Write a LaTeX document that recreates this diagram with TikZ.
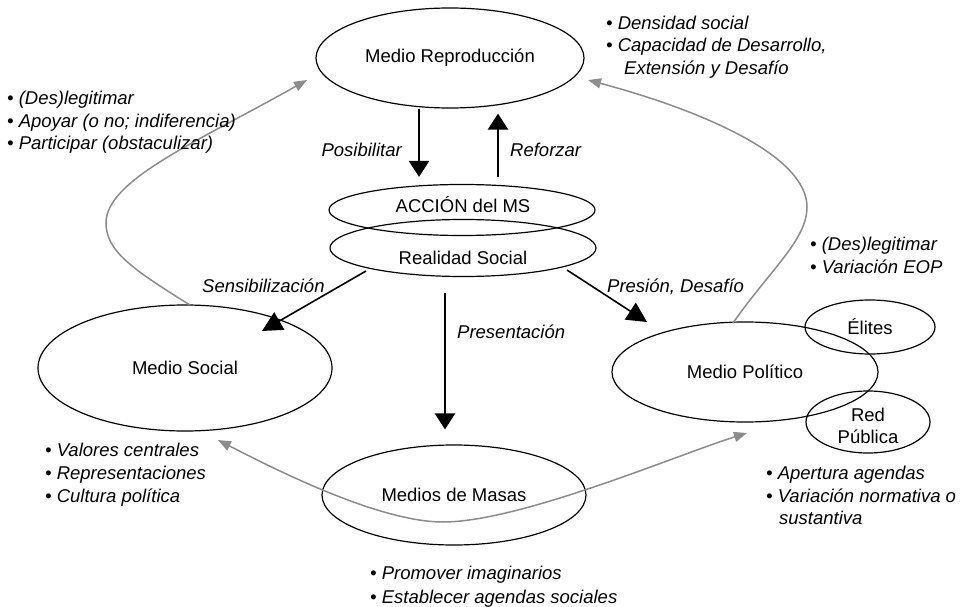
\documentclass[tikz,border=0pt]{standalone}
\usepackage{fontspec}
\setmainfont{Liberation Sans}
\usetikzlibrary{shapes.geometric,arrows.meta}
\newcommand\dfont{\fontsize{18.5}{22.5}\selectfont}
\definecolor{arrgray}{HTML}{8C8C8C}
\begin{document}
\begin{tikzpicture}[x=1pt,y=-1pt,
  ell/.style={draw, ellipse, line width=1.2pt, inner sep=0pt, font=\dfont},
  txt/.style={font=\dfont, inner sep=0pt},
  lbl/.style={font=\dfont\itshape, inner sep=0pt, anchor=base west},
  bigarrow/.style={line width=2.6pt, -{Triangle[width=20pt,length=16pt]}},
  midarrow/.style={line width=1.6pt, -{Triangle[width=20pt,length=20pt]}},
  grarrow/.style={draw=arrgray, line width=1.5pt, -{Triangle[width=10pt,length=13pt]}},
  grboth/.style={draw=arrgray, line width=1.5pt, {Triangle[width=10pt,length=13pt]}-{Triangle[width=10pt,length=13pt]}}
]
\useasboundingbox (0,0) rectangle (962,607);

% ellipses
\node[ell, minimum width=268pt, minimum height=100pt] (mr) at (450,58) {Medio Reproducción};
\node[ell, minimum width=266pt, minimum height=51pt] (acc) at (462,210) {};
\node[ell, minimum width=266pt, minimum height=57pt] (rs) at (463,248) {};
\node[txt] (acct) at (463,205) {ACCIÓN del MS};
\node[txt] (rst) at (463,258) {Realidad Social};
\node[ell, minimum width=294pt, minimum height=126pt] (ms) at (185,368) {Medio Social};
\node[ell, minimum width=264pt, minimum height=100pt] (mm) at (454,495) {Medios de Masas};
\node[ell, minimum width=266pt, minimum height=100pt] (mp) at (745,372) {Medio Político};
\node[ell, minimum width=130pt, minimum height=54pt] (el) at (870,327) {Élites};
\node[ell, minimum width=124pt, minimum height=62pt] (rp) at (868,422) {};
\node[txt, align=center] (rpt) at (868,426) {Red\\Pública};

% black arrows
\coordinate (xP) at (419,0);
\coordinate (xR) at (498,0);
\coordinate (xPr) at (445,0);
\draw[bigarrow, shorten >=7pt] (mr.south -| xP) -- (acc.north -| xP);
\draw[bigarrow, shorten <=7pt, shorten >=5pt] (acc.north -| xR) -- (mr.south -| xR);
\draw[bigarrow, shorten <=16pt, shorten >=15pt] (rs.south -| xPr) -- (mm.north -| xPr);
\coordinate (sS) at (366,271);
\coordinate (sT) at (262,331);
\draw[midarrow] (sS) -- (sT);
\coordinate (pS) at (567,270);
\coordinate (pT) at (647,322);
\draw[midarrow] (pS) -- (pT);

% gray curves
\coordinate (lS) at (190,305);
\coordinate (lM) at (106,223);
\coordinate (lT) at (307,80);
\draw[grarrow] (lS) .. controls (130,268) and (106,250) .. (lM)
   .. controls (106,180) and (197,142) .. (lT);
\coordinate (rS) at (733,323);
\coordinate (rM) at (807,207);
\coordinate (rT) at (588,80);
\draw[grarrow] (rS) .. controls (770,270) and (807,240) .. (rM)
   .. controls (807,155) and (700,110) .. (rT);
\coordinate (bL) at (218,440);
\coordinate (bM) at (443,522);
\coordinate (bR) at (747,433);
\draw[grboth] (bL) .. controls (278,471) and (380,522) .. (bM)
   .. controls (520,522) and (677,455) .. (bR);

% arrow labels
\node[lbl, anchor=base east] (lpos) at (402,156.5) {Posibilitar};
\node[lbl] (lref) at (510,156.5) {Reforzar};
\node[lbl] (lsen) at (202,292.5) {Sensibilización};
\node[lbl] (lpre) at (457,338.5) {Presentación};
\node[lbl] (lpd) at (607,292.5) {Presión, Desafío};

% bullet lists
\node[lbl] (a1) at (7,105) {• (Des)legitimar};
\node[lbl] (a2) at (7,128) {• Apoyar (o no; indiferencia)};
\node[lbl] (a3) at (7,150) {• Participar (obstaculizar)};

\node[lbl] (b1) at (606,29.5) {• Densidad social};
\node[lbl] (b2) at (606,52) {• Capacidad de Desarrollo,};
\node[lbl] (b3) at (624,74.5) {Extensión y Desafío};

\node[lbl] (c1) at (810,250.5) {• (Des)legitimar};
\node[lbl] (c2) at (810,273.5) {• Variación EOP};

\node[lbl] (d1) at (45,456.5) {• Valores centrales};
\node[lbl] (d2) at (45,479.5) {• Representaciones};
\node[lbl] (d3) at (45,502.5) {• Cultura política};

\node[lbl] (e1) at (766,479.5) {• Apertura agendas};
\node[lbl] (e2) at (766,502.5) {• Variación normativa o};
\node[lbl] (e3) at (779,524.5) {sustantiva};

\node[lbl] (f1) at (370,579.5) {• Promover imaginarios};
\node[lbl] (f2) at (370,603) {• Establecer agendas sociales};
\end{tikzpicture}
\end{document}
